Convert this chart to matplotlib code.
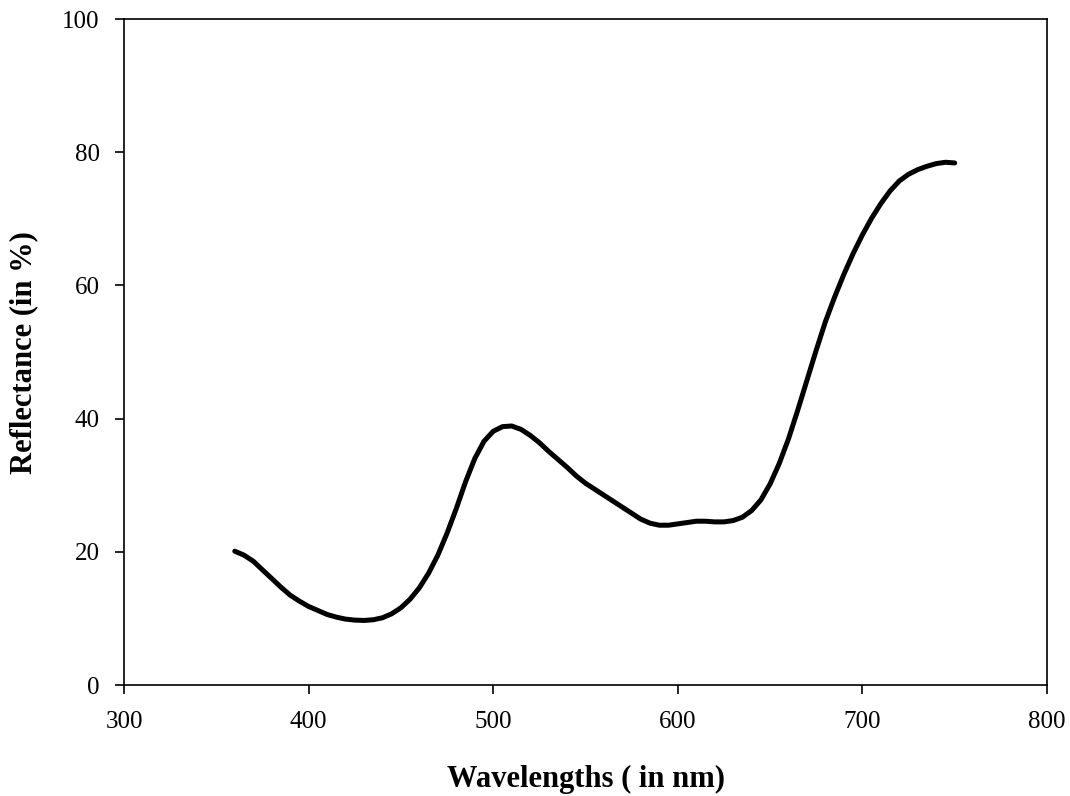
import matplotlib
matplotlib.use("Agg")
import matplotlib.pyplot as plt

wavelengths = [360, 365, 370, 375, 380, 385, 390, 395, 400, 405, 410, 415, 420, 425,
               430, 435, 440, 445, 450, 455, 460, 465, 470, 475, 480, 485, 490, 495,
               500, 505, 510, 515, 520, 525, 530, 535, 540, 545, 550, 555, 560, 565,
               570, 575, 580, 585, 590, 595, 600, 605, 610, 615, 620, 625, 630, 635,
               640, 645, 650, 655, 660, 665, 670, 675, 680, 685, 690, 695, 700, 705,
               710, 715, 720, 725, 730, 735, 740, 745, 750]
reflectance = [20.1, 19.5, 18.6, 17.3, 16.0, 14.7, 13.5, 12.6, 11.8, 11.2, 10.6, 10.2,
               9.9, 9.75, 9.7, 9.8, 10.1, 10.7, 11.6, 12.9, 14.6, 16.8, 19.5, 22.8,
               26.5, 30.5, 34.0, 36.6, 38.1, 38.8, 38.9, 38.4, 37.5, 36.4, 35.1, 33.9,
               32.7, 31.4, 30.3, 29.4, 28.5, 27.6, 26.7, 25.8, 24.9, 24.3, 24.0, 24.0,
               24.2, 24.4, 24.6, 24.6, 24.5, 24.5, 24.7, 25.2, 26.2, 27.8, 30.2, 33.3,
               37.0, 41.3, 45.8, 50.3, 54.6, 58.3, 61.7, 64.8, 67.6, 70.1, 72.3, 74.2,
               75.7, 76.7, 77.4, 77.9, 78.3, 78.5, 78.4]
xticks = [300, 400, 500, 600, 700, 800]
yticks = [0, 20, 40, 60, 80, 100]

plt.rcParams['font.family'] = ['Liberation Serif', 'DejaVu Serif']

fig = plt.figure(figsize=(10.70, 7.96), dpi=100)
ax = fig.add_axes([0.1159, 0.1394, 0.8626, 0.8366])
ax.plot(wavelengths, reflectance, color='black', linewidth=3.6, solid_capstyle='round',
        solid_joinstyle='round')
ax.set_xlim(300, 800)
ax.set_ylim(0, 100)
ax.set_xticks(xticks)
ax.set_yticks(yticks)
ax.tick_params(direction='out', length=6.5, width=1.2, labelsize=18,
               top=False, right=False)
ax.tick_params(axis='x', pad=12)
ax.tick_params(axis='y', pad=11)
for s in ax.spines.values():
    s.set_linewidth(1.2)
ax.set_xlabel('Wavelengths ( in nm)', fontsize=22, fontweight='bold', labelpad=23)
ax.set_ylabel('Reflectance (in %)', fontsize=22, fontweight='bold', labelpad=17.5)
fig.savefig('out.png', dpi=100)
